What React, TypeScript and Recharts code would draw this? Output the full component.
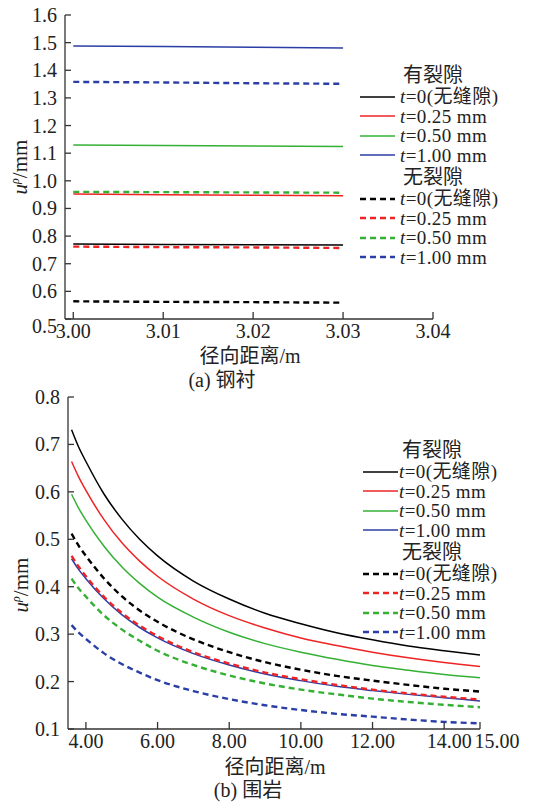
import { LineChart, Line, XAxis, YAxis, Legend } from 'recharts';

const FONT = "'Liberation Serif', 'Times New Roman', 'Noto Sans CJK SC', serif";

// (a) steel lining
const topX = [3.0, 3.01, 3.02, 3.03];
const topXTicks = [3.0, 3.01, 3.02, 3.03, 3.04];
const topYTicks = [0.5, 0.6, 0.7, 0.8, 0.9, 1.0, 1.1, 1.2, 1.3, 1.4, 1.5, 1.6];
const topCrackT0 = [0.771, 0.770, 0.769, 0.768];
const topCrackT025 = [0.952, 0.950, 0.948, 0.946];
const topCrackT050 = [1.130, 1.128, 1.126, 1.124];
const topCrackT100 = [1.488, 1.486, 1.483, 1.481];
const topNoCrackT0 = [0.564, 0.562, 0.561, 0.559];
const topNoCrackT025 = [0.762, 0.760, 0.759, 0.757];
const topNoCrackT050 = [0.960, 0.959, 0.958, 0.957];
const topNoCrackT100 = [1.358, 1.356, 1.353, 1.351];

// (b) surrounding rock
const botX = [3.6, 3.8, 4, 4.5, 5, 5.5, 6, 7, 8, 9, 10, 11, 12, 13, 14, 15];
const botXTicks = [4, 6, 8, 10, 12, 14, 15];
const botYTicks = [0.1, 0.2, 0.3, 0.4, 0.5, 0.6, 0.7, 0.8];
const botCrackT0 = [0.731, 0.694, 0.664, 0.596, 0.543, 0.500, 0.465, 0.412, 0.374, 0.344, 0.322, 0.303, 0.288, 0.275, 0.265, 0.256];
const botCrackT025 = [0.664, 0.631, 0.603, 0.542, 0.493, 0.454, 0.422, 0.374, 0.339, 0.313, 0.292, 0.276, 0.262, 0.250, 0.240, 0.232];
const botCrackT050 = [0.595, 0.565, 0.540, 0.486, 0.442, 0.407, 0.378, 0.336, 0.304, 0.280, 0.262, 0.247, 0.234, 0.224, 0.215, 0.208];
const botCrackT100 = [0.459, 0.436, 0.417, 0.375, 0.341, 0.314, 0.292, 0.259, 0.235, 0.216, 0.202, 0.190, 0.181, 0.173, 0.166, 0.159];
const botNoCrackT0 = [0.512, 0.486, 0.465, 0.418, 0.380, 0.350, 0.326, 0.289, 0.262, 0.241, 0.225, 0.212, 0.202, 0.193, 0.185, 0.179];
const botNoCrackT025 = [0.465, 0.442, 0.422, 0.379, 0.345, 0.318, 0.296, 0.262, 0.238, 0.219, 0.205, 0.193, 0.183, 0.175, 0.168, 0.162];
const botNoCrackT050 = [0.417, 0.396, 0.379, 0.340, 0.310, 0.286, 0.265, 0.235, 0.213, 0.196, 0.183, 0.173, 0.164, 0.157, 0.151, 0.146];
const botNoCrackT100 = [0.319, 0.303, 0.290, 0.260, 0.237, 0.219, 0.203, 0.180, 0.163, 0.150, 0.140, 0.132, 0.126, 0.120, 0.115, 0.112];

const RED = '#ee2424';
const GREEN = '#34b034';
const BLUE = '#2b3ea6';

const series = [
  { key: 'c0', label: '0(无缝隙)', color: '#000', dashed: false },
  { key: 'c25', label: '0.25 mm', color: RED, dashed: false },
  { key: 'c50', label: '0.50 mm', color: GREEN, dashed: false },
  { key: 'c100', label: '1.00 mm', color: BLUE, dashed: false },
  { key: 'n0', label: '0(无缝隙)', color: '#000', dashed: true },
  { key: 'n25', label: '0.25 mm', color: RED, dashed: true },
  { key: 'n50', label: '0.50 mm', color: GREEN, dashed: true },
  { key: 'n100', label: '1.00 mm', color: BLUE, dashed: true },
];

const groups = [
  { title: '有裂隙', keys: ['c0', 'c25', 'c50', 'c100'] },
  { title: '无裂隙', keys: ['n0', 'n25', 'n50', 'n100'] },
];

const topData = topX.map((x, i) => ({
  x,
  c0: topCrackT0[i], c25: topCrackT025[i], c50: topCrackT050[i], c100: topCrackT100[i],
  n0: topNoCrackT0[i], n25: topNoCrackT025[i], n50: topNoCrackT050[i], n100: topNoCrackT100[i],
}));

const botData = botX.map((x, i) => ({
  x,
  c0: botCrackT0[i], c25: botCrackT025[i], c50: botCrackT050[i], c100: botCrackT100[i],
  n0: botNoCrackT0[i], n25: botNoCrackT025[i], n50: botNoCrackT050[i], n100: botNoCrackT100[i],
}));

const AXIS = '#333';
const TXT = '#222';

const makeXTick = (shift: Record<number, number>) => (props: any) => {
  const v = props.payload.value;
  return (
    <text x={props.x + (shift[v] || 0)} y={props.y} dy="0.71em" textAnchor="middle" fontSize={20} fontFamily={FONT} fill={TXT}>
      {Number(v).toFixed(2)}
    </text>
  );
};

const makeYTick = (shift: Record<number, number>) => (props: any) => {
  const v = props.payload.value;
  return (
    <text x={props.x} y={props.y + (shift[v] || 0)} dy="0.35em" textAnchor="end" fontSize={20} fontFamily={FONT} fill={TXT}>
      {Number(v).toFixed(1)}
    </text>
  );
};

const makeLegend = (gap: number) => () => (
  <div style={{ fontFamily: FONT, color: TXT, fontSize: 19 }}>
    {groups.map((g) => (
      <div key={g.title}>
        <div style={{ height: 24, lineHeight: '24px', paddingLeft: 35 + gap + 3, fontSize: 20 }}>{g.title}</div>
        {g.keys.map((k) => {
          const s = series.find((d) => d.key === k)!;
          return (
            <div key={k} style={{ height: 19.5, lineHeight: '19.5px', display: 'flex', alignItems: 'center', whiteSpace: 'nowrap' }}>
              <svg width={35} height={8} style={{ marginRight: gap }}>
                <line x1={0} y1={4} x2={35} y2={4} stroke={s.color} strokeWidth={s.dashed ? 2.4 : 1.6} strokeDasharray={s.dashed ? '6 4' : undefined} />
              </svg>
              <span style={{ letterSpacing: 0.4 }}><i>t</i>={s.label}</span>
            </div>
          );
        })}
      </div>
    ))}
  </div>
);

const lines = (type: 'linear' | 'monotone') =>
  series.map((s) => (
    <Line
      key={s.key}
      type={type}
      dataKey={s.key}
      stroke={s.color}
      strokeWidth={s.dashed ? 2.4 : 1.5}
      strokeDasharray={s.dashed ? '6 4' : undefined}
      dot={false}
      activeDot={false}
      isAnimationActive={false}
    />
  ));

const YLabel = ({ x, y }: { x: number; y: number }) => (
  <div style={{ position: 'absolute', left: x, top: y, transform: 'translate(-50%, -50%) rotate(-90deg)', whiteSpace: 'nowrap', fontFamily: FONT, fontSize: 21, color: TXT, lineHeight: '22px' }}>
    <i>u</i><span style={{ fontSize: 12, position: 'relative', top: -8, fontStyle: 'italic' }}>ρ</span>/mm
  </div>
);

const Caption = ({ x, y, text }: { x: number; y: number; text: string }) => (
  <div style={{ position: 'absolute', left: x, top: y, transform: 'translate(-50%, -50%)', whiteSpace: 'nowrap', fontFamily: FONT, fontSize: 20, color: TXT, lineHeight: '22px' }}>
    {text}
  </div>
);

export default function App() {
  return (
    <div style={{ position: 'absolute', left: 0, top: 0, width: 534, height: 805, background: '#fff', overflow: 'hidden' }}>
      <div style={{ position: 'absolute', left: 0, top: 0 }}>
        <LineChart width={534} height={400} data={topData} margin={{ top: 15, right: 101, bottom: 51, left: 20 }}>
          <XAxis
            dataKey="x"
            type="number"
            domain={[2.99908, 3.04]}
            ticks={topXTicks}
            interval={0}
            height={30}
            tickSize={-7}
            tickMargin={12}
            axisLine={{ stroke: AXIS, strokeWidth: 1.3 }}
            tickLine={{ stroke: AXIS, strokeWidth: 1.3 }}
            tick={makeXTick({})}
          />
          <YAxis
            type="number"
            domain={[0.5, 1.6]}
            ticks={topYTicks}
            interval={0}
            width={45}
            tickSize={-6}
            tickMargin={14}
            axisLine={{ stroke: AXIS, strokeWidth: 1.3 }}
            tickLine={{ stroke: AXIS, strokeWidth: 1.3 }}
            tick={makeYTick({ 0.5: 7 })}
          />
          {lines('linear')}
          <Legend
            layout="vertical"
            align="center"
            verticalAlign="middle"
            content={makeLegend(5)}
            wrapperStyle={{ left: 360, top: 63, width: 174 }}
          />
        </LineChart>
      </div>
      <YLabel x={21} y={167} />
      <Caption x={250} y={356} text="径向距离/m" />
      <Caption x={222} y={380} text="(a) 钢衬" />

      <div style={{ position: 'absolute', left: 0, top: 370 }}>
        <LineChart width={534} height={435} data={botData} margin={{ top: 27, right: 54, bottom: 46, left: 20 }}>
          <XAxis
            dataKey="x"
            type="number"
            domain={[3.5, 15]}
            ticks={botXTicks}
            interval={0}
            height={30}
            tickSize={-7}
            tickMargin={12}
            axisLine={{ stroke: AXIS, strokeWidth: 1.3 }}
            tickLine={{ stroke: AXIS, strokeWidth: 1.3 }}
            tick={makeXTick({ 14: 5, 15: 17 })}
          />
          <YAxis
            type="number"
            domain={[0.1, 0.8]}
            ticks={botYTicks}
            interval={0}
            width={48}
            tickSize={-6}
            tickMargin={14}
            axisLine={{ stroke: AXIS, strokeWidth: 1.3 }}
            tickLine={{ stroke: AXIS, strokeWidth: 1.3 }}
            tick={makeYTick({})}
          />
          {lines('monotone')}
          <Legend
            layout="vertical"
            align="center"
            verticalAlign="middle"
            content={makeLegend(1)}
            wrapperStyle={{ left: 363, top: 68, width: 171 }}
          />
        </LineChart>
      </div>
      <YLabel x={22} y={585} />
      <Caption x={275} y={767} text="径向距离/m" />
      <Caption x={248} y={790} text="(b) 围岩" />
    </div>
  );
}
